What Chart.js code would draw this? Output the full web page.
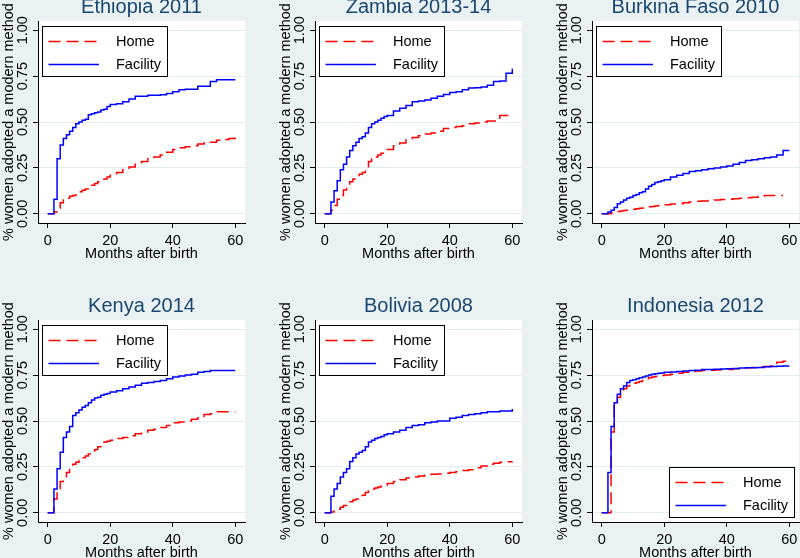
<!DOCTYPE html>
<html><head><meta charset="utf-8">
<script src="https://cdn.jsdelivr.net/npm/chart.js@4"></script>
<style>
html,body{margin:0;padding:0;background:#eaf1f3;}
#wrap{position:relative;width:800px;height:558px;overflow:hidden;background:#eaf1f3;}
#wrap canvas{position:absolute;}
</style></head><body><div id="wrap"></div>
<script>
// ---- data ----
const months = [0,1,2,3,4,5,6,7,8,9,10,11,12,13,14,15,16,17,18,19,20,22,24,26,28,30,32,34,36,38,40,42,44,46,48,50,52,54,56,58,60];
const xTicks = [0,20,40,60];
const yTicks = [0,0.25,0.5,0.75,1];
const seriesNames = ['Home','Facility'];
const countries = ['Ethiopia 2011','Zambia 2013-14','Burkina Faso 2010','Kenya 2014','Bolivia 2008','Indonesia 2012'];

const ethiopiaHome = [0,0,0.01,0.03,0.06,0.075,0.085,0.095,0.10,0.11,0.12,0.128,0.135,0.145,0.155,0.165,0.175,0.18,0.19,0.20,0.21,0.225,0.24,0.255,0.27,0.285,0.30,0.31,0.32,0.335,0.35,0.36,0.365,0.37,0.38,0.385,0.39,0.40,0.405,0.41,0.415];
const ethiopiaFacility = [0,0,0.08,0.30,0.375,0.41,0.43,0.45,0.47,0.49,0.50,0.51,0.515,0.54,0.545,0.55,0.555,0.565,0.57,0.585,0.595,0.60,0.61,0.625,0.64,0.64,0.645,0.645,0.648,0.655,0.665,0.675,0.678,0.678,0.695,0.695,0.72,0.73,0.73,0.73,0.73];
const zambiaHome = [0,0,0.02,0.045,0.08,0.10,0.13,0.15,0.175,0.19,0.20,0.215,0.225,0.24,0.285,0.30,0.31,0.32,0.33,0.34,0.35,0.37,0.385,0.405,0.415,0.425,0.435,0.44,0.45,0.465,0.47,0.475,0.48,0.49,0.495,0.50,0.505,0.505,0.535,0.535,0.535];
const zambiaFacility = [0,0,0.065,0.125,0.18,0.24,0.27,0.31,0.345,0.37,0.39,0.41,0.42,0.44,0.47,0.49,0.50,0.51,0.52,0.53,0.535,0.56,0.575,0.59,0.61,0.615,0.62,0.63,0.64,0.65,0.66,0.665,0.675,0.685,0.687,0.69,0.70,0.72,0.723,0.765,0.79];
const burkinaHome = [0,0,0,0.005,0.01,0.012,0.015,0.018,0.02,0.022,0.025,0.028,0.03,0.032,0.035,0.038,0.04,0.043,0.045,0.048,0.05,0.053,0.055,0.06,0.065,0.068,0.07,0.072,0.075,0.078,0.08,0.082,0.085,0.088,0.09,0.095,0.10,0.10,0.10,0.10,null];
const burkinaFacility = [0,0,0.01,0.02,0.035,0.055,0.065,0.075,0.085,0.09,0.10,0.105,0.115,0.12,0.135,0.15,0.16,0.17,0.175,0.18,0.185,0.20,0.21,0.22,0.23,0.235,0.24,0.245,0.25,0.255,0.26,0.27,0.28,0.29,0.295,0.30,0.305,0.31,0.32,0.345,0.345];
const kenyaHome = [0,0,0.075,0.12,0.17,0.19,0.22,0.245,0.265,0.275,0.285,0.30,0.31,0.32,0.335,0.345,0.36,0.37,0.385,0.39,0.395,0.405,0.41,0.42,0.43,0.44,0.45,0.455,0.465,0.475,0.49,0.495,0.50,0.51,0.525,0.535,0.54,0.55,0.55,0.55,0.55];
const kenyaFacility = [0,0,0.13,0.24,0.33,0.41,0.44,0.47,0.53,0.545,0.56,0.575,0.585,0.60,0.615,0.625,0.63,0.64,0.645,0.65,0.658,0.665,0.675,0.685,0.695,0.705,0.71,0.715,0.72,0.73,0.74,0.745,0.75,0.755,0.765,0.77,0.775,0.775,0.775,0.775,0.775];
const boliviaHome = [0,0,0.005,0.015,0.02,0.03,0.04,0.05,0.06,0.07,0.075,0.085,0.095,0.11,0.12,0.13,0.135,0.14,0.145,0.15,0.16,0.17,0.18,0.19,0.195,0.20,0.205,0.21,0.212,0.215,0.22,0.225,0.23,0.235,0.245,0.255,0.265,0.27,0.275,0.278,0.28];
const boliviaFacility = [0,0,0.09,0.13,0.16,0.195,0.22,0.24,0.28,0.30,0.32,0.33,0.34,0.36,0.385,0.395,0.405,0.41,0.415,0.425,0.43,0.44,0.45,0.465,0.475,0.48,0.49,0.495,0.50,0.50,0.515,0.52,0.53,0.535,0.54,0.545,0.55,0.55,0.555,0.555,0.565];
const indonesiaHome = [0,0,0,0.44,0.585,0.63,0.655,0.675,0.69,0.695,0.705,0.71,0.715,0.72,0.73,0.735,0.74,0.742,0.745,0.748,0.75,0.755,0.76,0.765,0.77,0.772,0.775,0.777,0.778,0.78,0.78,0.785,0.787,0.79,0.792,0.795,0.797,0.80,0.82,0.825,0.825];
const indonesiaFacility = [0,0,0.22,0.47,0.60,0.645,0.675,0.69,0.71,0.72,0.725,0.73,0.735,0.74,0.745,0.75,0.755,0.757,0.76,0.762,0.765,0.767,0.77,0.772,0.775,0.777,0.78,0.78,0.782,0.783,0.785,0.786,0.788,0.79,0.79,0.792,0.795,0.797,0.798,0.80,0.80];

const panelHome = [ethiopiaHome, zambiaHome, burkinaHome, kenyaHome, boliviaHome, indonesiaHome];
const panelFacility = [ethiopiaFacility, zambiaFacility, burkinaFacility, kenyaFacility, boliviaFacility, indonesiaFacility];
const legendCorner = ['tl','tl','tl','tl','tl','br'];

// ---- drawing ----
const FONT = "'Liberation Sans', Arial, Helvetica, sans-serif";
Chart.defaults.font.family = FONT;
Chart.defaults.color = '#000';

const toPoints = arr => months.map((m,i)=>({x:m,y:arr[i]})).filter(p=>p.y!==null);

const plotBg = {
  id:'plotBg',
  beforeDraw(chart){
    const {ctx, chartArea:a} = chart;
    ctx.save(); ctx.fillStyle='#ffffff';
    ctx.fillRect(a.left,a.top,a.right-a.left,a.bottom-a.top);
    ctx.restore();
  }
};
const yLabels = {
  id:'yLabels',
  afterDraw(chart){
    const s = chart.scales.y, ctx = chart.ctx;
    ctx.save();
    ctx.font = '14.5px ' + FONT;
    ctx.fillStyle = '#000';
    ctx.textAlign = 'center';
    ctx.textBaseline = 'alphabetic';
    s.ticks.forEach((t,i)=>{
      const py = s.getPixelForTick(i);
      ctx.save();
      ctx.translate(chart.chartArea.left - 10.8, py);
      ctx.rotate(-Math.PI/2);
      ctx.fillText(Number(t.value).toFixed(2), 0, 0);
      ctx.restore();
    });
    ctx.restore();
  }
};
const boxLegend = {
  id:'boxLegend',
  afterDatasetsDraw(chart, args, opts){
    const {ctx, chartArea:a} = chart;
    const w = 125, h = 50;
    let x, y;
    if (opts.corner === 'br') { x = Math.round(a.right - 5 - w); y = Math.round(a.bottom - 5 - h); }
    else { x = Math.round(a.left + 4); y = Math.round(a.top + 5); }
    ctx.save();
    ctx.fillStyle = '#fff';
    ctx.fillRect(x, y, w, h);
    ctx.strokeStyle = '#000'; ctx.lineWidth = 1;
    ctx.strokeRect(x+0.5, y+0.5, w, h);
    ctx.font = '14.5px ' + FONT;
    ctx.textBaseline = 'middle';
    ctx.textAlign = 'left';
    seriesNames.forEach((name, i)=>{
      const ds = chart.data.datasets.find(d=>d.label===name);
      const cy = Math.round(y + 15 + i*22.5) + 0.5;
      ctx.strokeStyle = ds.borderColor; ctx.lineWidth = ds.borderWidth;
      ctx.setLineDash(ds.borderDash || []);
      ctx.beginPath(); ctx.moveTo(x+6.5, cy); ctx.lineTo(x+57, cy); ctx.stroke();
      ctx.setLineDash([]);
      ctx.fillStyle = '#000';
      ctx.fillText(name, x+74, cy);
    });
    ctx.restore();
  }
};

const wrap = document.getElementById('wrap');
countries.forEach((title, k)=>{
  const col = k % 3, row = Math.floor(k/3);
  const cv = document.createElement('canvas');
  cv.width = 277; cv.height = 297;
  cv.style.left = (col*277) + 'px';
  cv.style.top = (row === 0 ? -20 : 279) + 'px';
  cv.style.width = '277px'; cv.style.height = '297px';
  wrap.appendChild(cv);
  new Chart(cv, {
    type:'line',
    data:{ datasets:[
      {label:seriesNames[0], data:toPoints(panelHome[k]), borderColor:'#ff0000', borderDash:[12,6], borderWidth:1.5, pointRadius:0, stepped:true, fill:false, order:1},
      {label:seriesNames[1], data:toPoints(panelFacility[k]), borderColor:'#0000ff', borderWidth:1.5, pointRadius:0, stepped:true, fill:false, order:0}
    ]},
    options:{
      responsive:false, animation:false, devicePixelRatio:1,
      layout:{padding:{left:0,right:32,top:0,bottom:0}},
      plugins:{
        legend:{display:false}, tooltip:{enabled:false},
        title:{display:true, text:title, fullSize:false, color:'#1a476f', font:{size:20, weight:'normal'}, padding:{top:15.6,bottom:1.4}},
        boxLegend:{corner:legendCorner[k]}
      },
      scales:{
        x:{type:'linear', min:-3.1, max:63.1,
          afterBuildTicks: s=>{ s.ticks = xTicks.map(v=>({value:v})); },
          afterFit: s=>{ s.height = 54; },
          grid:{drawOnChartArea:false, drawTicks:true, tickLength:5, tickColor:'#000', tickWidth:1},
          border:{display:true, color:'#000', width:1},
          ticks:{color:'#000', font:{size:14.5}, padding:4.5, maxRotation:0, autoSkip:false},
          title:{display:true, text:'Months after birth', color:'#000', font:{size:14.5}, padding:{top:0,bottom:14}}
        },
        y:{type:'linear', min:-0.05, max:1.05,
          afterBuildTicks: s=>{ s.ticks = yTicks.map(v=>({value:v})); },
          afterFit: s=>{ s.width = 38; },
          grid:{color:'#e3ecef', drawTicks:true, tickLength:5, tickColor:'#000', tickWidth:1},
          border:{display:true, color:'#000', width:1},
          ticks:{display:false},
          title:{display:true, text:'% women adopted a modern method', color:'#000', font:{size:14.5}, padding:{top:0,bottom:0}}
        }
      }
    },
    plugins:[plotBg, yLabels, boxLegend]
  });
});
</script></body></html>
